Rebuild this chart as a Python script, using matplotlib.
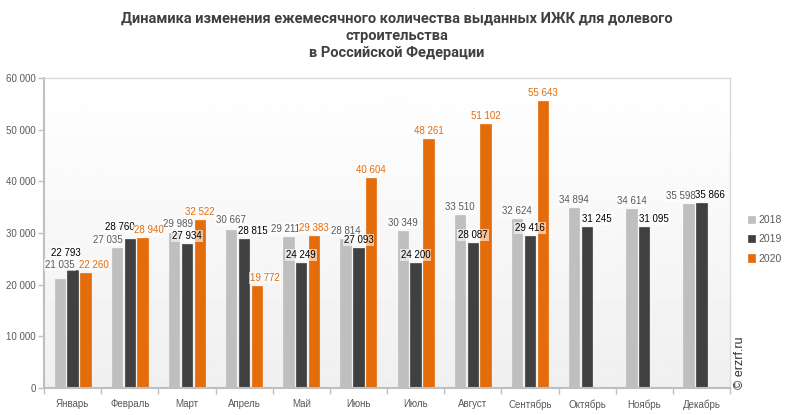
import numpy as np
import matplotlib
matplotlib.use("Agg")
import matplotlib.pyplot as plt

months = ["Январь", "Февраль", "Март", "Апрель", "Май", "Июнь", "Июль",
          "Август", "Сентябрь", "Октябрь", "Ноябрь", "Декабрь"]
v2018 = [21035, 27035, 29989, 30667, 29211, 28814, 30349, 33510, 32624, 34894, 34614, 35598]
v2019 = [22793, 28760, 27934, 28815, 24249, 27093, 24200, 28087, 29416, 31245, 31095, 35866]
v2020 = [22260, 28940, 32522, 19772, 29383, 40604, 48261, 51102, 55643]
series_names = ["2018", "2019", "2020"]
yticks = [0, 10000, 20000, 30000, 40000, 50000, 60000]
title = "Динамика изменения ежемесячного количества выданных ИЖК для долевого\nстроительства\nв Российской Федерации"

colors = ["#bfbfbf", "#404040", "#e46c0a"]
label_colors = ["#595959", "#000000", "#e46c0a"]

# label nudges in pixels (series, month) -> (dx, dy)
nudges = {
    (0, 0): (0, 6), (1, 0): (-7, 9), (2, 0): (8, 0),
    (0, 1): (-9, 0), (1, 1): (-10, 4), (2, 1): (6, 0),
    (0, 2): (4, 1),
    (0, 3): (0, 2), (1, 3): (9, 0), (2, 3): (8, 0),
    (0, 4): (-3, 0),
    (1, 9): (10, 0), (1, 10): (10, 0),
    (0, 11): (-8, 0), (1, 11): (9, 0),
}

plt.rcParams['font.family'] = ['Liberation Sans', 'DejaVu Sans']

fig = plt.figure(figsize=(7.93, 4.15), dpi=100)
ax = fig.add_axes([44/793, 27/415, (730-44)/793, (388-78)/415])

x = np.arange(len(months))
w = 0.18
offs = [-0.225, 0.0, 0.225]
data = [v2018, v2019, v2020]

# gradient background
grad = np.linspace(0.94, 1.0, 256).reshape(-1, 1)
ax.imshow(grad, extent=[0, 1, 0, 1], transform=ax.transAxes, aspect='auto',
          cmap='gray', vmin=0, vmax=1, origin='lower', zorder=0)

for si, vals in enumerate(data):
    xs = x[:len(vals)] + offs[si]
    ax.bar(xs, vals, width=w, color=colors[si], edgecolor=colors[si],
           linewidth=0.5, zorder=2, label=series_names[si])
for si, vals in enumerate(data):
    xs = x[:len(vals)] + offs[si]
    for mi, (xx, v) in enumerate(zip(xs, vals)):
        dx, dy = nudges.get((si, mi), (0, 0))
        ax.annotate(f"{v:,}".replace(",", " "), (xx, v), xytext=(dx, 3 + dy),
                    textcoords='offset pixels', ha='center', va='bottom',
                    fontsize=7, color=label_colors[si], zorder=4,
                    bbox=dict(boxstyle='square,pad=0.1', fc='white', ec='none', alpha=0.6))

ax.set_xlim(-0.5, len(months) - 0.5)
ax.set_ylim(0, 60000)
ax.set_yticks(yticks)
ax.set_yticklabels([f"{t:,}".replace(",", " ") for t in yticks], fontsize=7, color="#595959")
ax.set_xticks(x)
ax.set_xticklabels(months, fontsize=7, color="#595959")
ax.tick_params(axis='x', length=0, pad=8)
ax.tick_params(axis='y', length=4, width=1, color="#bfbfbf", pad=2)
ax.set_xticks(np.arange(-0.5, len(months) + 0.5, 1), minor=True)
ax.tick_params(axis='x', which='minor', length=4, width=1, color="#bfbfbf")

for s in ['top', 'right']:
    ax.spines[s].set_color("#d9d9d9")
    ax.spines[s].set_linewidth(1)
for s in ['left', 'bottom']:
    ax.spines[s].set_color("#bfbfbf")
    ax.spines[s].set_linewidth(1.5)

fig.suptitle(title, x=0.5, y=0.972, fontsize=10.5, fontweight='bold', color="#404040",
             family=['Roboto', 'DejaVu Sans'], linespacing=1.3)

leg = ax.legend(loc='center left', bbox_to_anchor=(1.0, 0.48), frameon=False, fontsize=7.5,
                handlelength=0.7, handleheight=0.7, handletextpad=0.3, labelspacing=0.9,
                borderaxespad=1.3, labelcolor="#595959")

fig.text(740/793, (415-363)/415, "© erzrf.ru", rotation=90, ha='center', va='center',
         fontsize=9, color="#303030")

fig.savefig("out.png", dpi=100)
